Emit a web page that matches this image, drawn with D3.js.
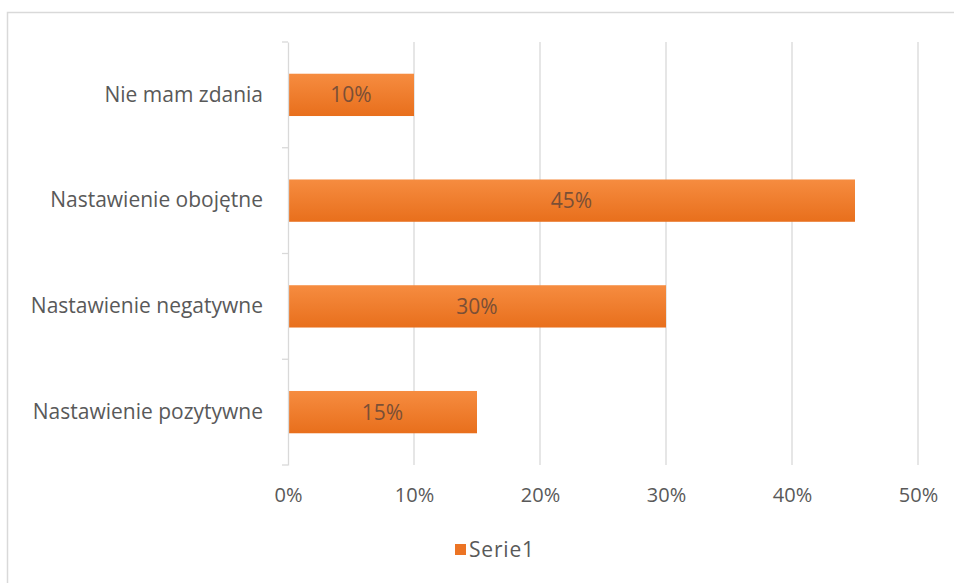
<!DOCTYPE html>
<html>
<head>
<meta charset="utf-8">
<script src="https://cdn.jsdelivr.net/npm/d3@7"></script>
<style>
  body { margin: 0; background: #fff; }
  text { font-family: "Open Sans", Lato, sans-serif; }
</style>
</head>
<body>
<div id="chart"></div>
<script>
const categories = ["Nie mam zdania", "Nastawienie obojętne", "Nastawienie negatywne", "Nastawienie pozytywne"];
const values = [0.10, 0.45, 0.30, 0.15];
const xTicks = [0, 0.1, 0.2, 0.3, 0.4, 0.5];
const seriesName = "Serie1";

const W = 954, H = 583;
const margin = {top: 42, right: 36, bottom: 118, left: 288};
const width = W - margin.left - margin.right;
const height = H - margin.top - margin.bottom;

const svg = d3.select("#chart").append("svg")
  .attr("width", W)
  .attr("height", H);

// outer frame
svg.append("rect")
  .attr("x", 7.5).attr("y", 12.5)
  .attr("width", W).attr("height", H)
  .attr("fill", "none")
  .attr("stroke", "#d9d9d9")
  .attr("stroke-width", 1.5);

const defs = svg.append("defs");
const grad = defs.append("linearGradient")
  .attr("id", "barGrad")
  .attr("x1", 0).attr("y1", 0).attr("x2", 0).attr("y2", 1);
grad.append("stop").attr("offset", "0%").attr("stop-color", "#f68c40");
grad.append("stop").attr("offset", "100%").attr("stop-color", "#e86f1c");

const g = svg.append("g")
  .attr("transform", `translate(${margin.left},${margin.top})`);

const x = d3.scaleLinear().domain([0, 0.5]).range([0, 630]);
const y = d3.scaleBand().domain(categories).range([0, height]).paddingInner(0.6).paddingOuter(0.3);

// gridlines
g.selectAll(".grid")
  .data(xTicks.slice(1))
  .enter().append("line")
  .attr("x1", d => x(d)).attr("x2", d => x(d))
  .attr("y1", 0).attr("y2", height)
  .attr("stroke", "#d9d9d9")
  .attr("stroke-width", 1.3);

// bars
g.selectAll(".bar")
  .data(values)
  .enter().append("rect")
  .attr("x", 0)
  .attr("y", (d, i) => y(categories[i]))
  .attr("width", d => x(d))
  .attr("height", y.bandwidth())
  .attr("fill", "url(#barGrad)");

// data labels
g.selectAll(".lbl")
  .data(values)
  .enter().append("text")
  .attr("x", d => x(d) / 2)
  .attr("y", (d, i) => y(categories[i]) + y.bandwidth() / 2)
  .attr("dy", "0.36em")
  .attr("text-anchor", "middle")
  .attr("font-size", 21)
  .attr("fill", "#7a4f36")
  .text(d => Math.round(d * 100) + "%");

// category axis
const yAxis = d3.axisLeft(y).tickSize(0).tickPadding(25);
const ya = g.append("g").call(yAxis);
ya.select(".domain").attr("stroke", "#d9d9d9").attr("stroke-width", 1.3);
ya.selectAll("text").attr("font-size", 21).attr("fill", "#595959")
  .style("font-family", "'Open Sans', Lato, sans-serif");

// category boundary ticks
const step = height / categories.length;
g.selectAll(".ctick")
  .data(d3.range(categories.length + 1))
  .enter().append("line")
  .attr("x1", -6).attr("x2", 0)
  .attr("y1", d => d * step).attr("y2", d => d * step)
  .attr("stroke", "#d9d9d9")
  .attr("stroke-width", 1.3);

// value axis labels
const xAxis = d3.axisBottom(x).tickValues(xTicks).tickSize(0).tickPadding(23)
  .tickFormat(d3.format(".0%"));
const xa = g.append("g").attr("transform", `translate(0,${height})`).call(xAxis);
xa.select(".domain").remove();
xa.selectAll("text").attr("font-size", 20).attr("fill", "#595959")
  .style("font-family", "'Open Sans', Lato, sans-serif");

// legend
const legend = svg.append("g").attr("transform", "translate(455,544)");
legend.append("rect").attr("width", 11).attr("height", 11).attr("fill", "#ec7424");
legend.append("text").attr("x", 14).attr("y", 12.5)
  .attr("font-size", 21).attr("letter-spacing", 0.8)
  .attr("fill", "#595959").text(seriesName);
</script>
</body>
</html>
